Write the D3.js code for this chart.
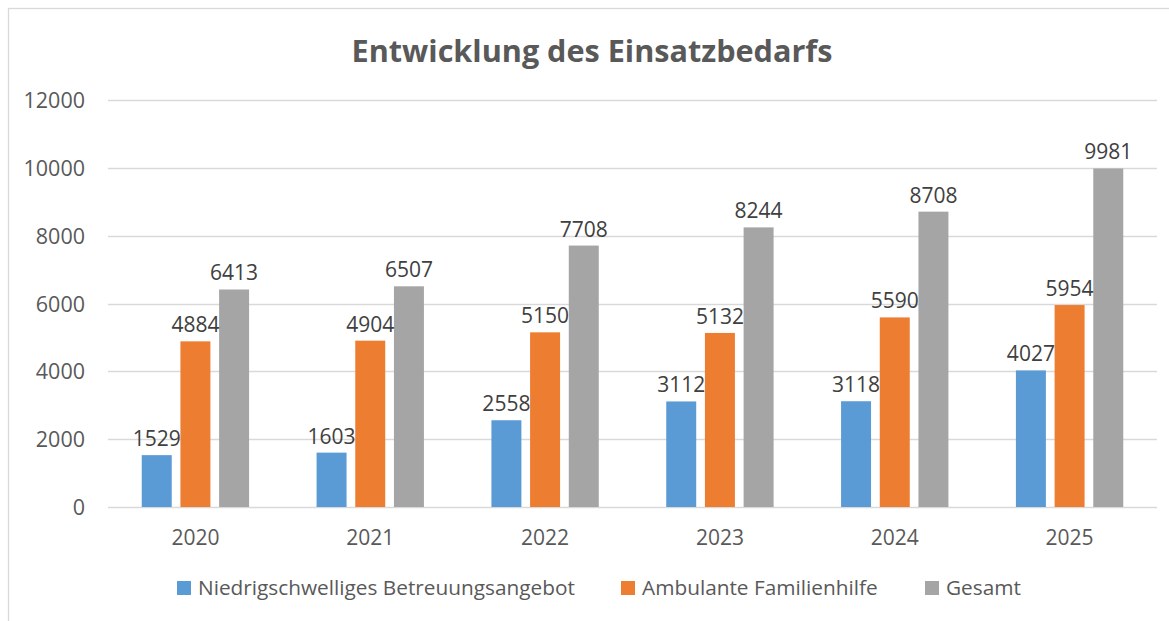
<!DOCTYPE html>
<html>
<head>
<meta charset="utf-8">
<script src="https://cdn.jsdelivr.net/npm/d3@7"></script>
<style>
  html, body { margin: 0; padding: 0; background: #fff; }
  svg { display: block; }
  text { font-family: "Open Sans", "Noto Sans", sans-serif; }
</style>
</head>
<body>
<svg id="chart" width="1169" height="621"></svg>
<script>
const categories = ["2020", "2021", "2022", "2023", "2024", "2025"];
const seriesNames = ["Niedrigschwelliges Betreuungsangebot", "Ambulante Familienhilfe", "Gesamt"];
const niedrigschwellig = [1529, 1603, 2558, 3112, 3118, 4027];
const ambulant = [4884, 4904, 5150, 5132, 5590, 5954];
const gesamt = [6413, 6507, 7708, 8244, 8708, 9981];
const yTicks = [0, 2000, 4000, 6000, 8000, 10000, 12000];
const colors = ["#5B9BD5", "#ED7D31", "#A5A5A5"];
const title = "Entwicklung des Einsatzbedarfs";

const seriesValues = [niedrigschwellig, ambulant, gesamt];
const svg = d3.select("#chart");
const W = 1169, H = 621;
const plot = { left: 108, right: 1157, top: 100, bottom: 507 };

// chart area border
svg.append("rect")
  .attr("x", 8.5).attr("y", 8.5)
  .attr("width", W + 20).attr("height", H + 20)
  .attr("fill", "#fff").attr("stroke", "#D9D9D9").attr("stroke-width", 1.3);

const x0 = d3.scaleBand().domain(categories).range([plot.left, plot.right]).paddingInner(0).paddingOuter(0);
const bw = x0.bandwidth();
const x1 = d3.scaleBand().domain(seriesNames).range([bw * 0.193, bw * 0.807]).paddingInner(0.225).paddingOuter(0);
const y = d3.scaleLinear().domain([0, 12000]).range([plot.bottom, plot.top]);

// gridlines
svg.append("g").selectAll("line").data(yTicks).join("line")
  .attr("x1", plot.left).attr("x2", plot.right)
  .attr("y1", d => Math.round(y(d)) + 0.5).attr("y2", d => Math.round(y(d)) + 0.5)
  .attr("stroke", "#D9D9D9").attr("stroke-width", 1.5);

// y axis labels
const yAxis = d3.axisLeft(y).tickValues(yTicks).tickSize(0).tickPadding(0).tickFormat(d3.format("d"));
const gy = svg.append("g").attr("transform", `translate(85,0)`).call(yAxis);
gy.select(".domain").remove();
gy.selectAll("text").attr("fill", "#595959").style("font-size", "21.5px").attr("dy", "0.35em");

// x axis labels
const xAxis = d3.axisBottom(x0).tickSize(0).tickPadding(0);
const gx = svg.append("g").attr("transform", `translate(0,${plot.bottom + 23})`).call(xAxis);
gx.select(".domain").remove();
gx.selectAll("text").attr("fill", "#595959").style("font-size", "21px").attr("dy", "0.71em");

// bars
const data = categories.map((c, i) => ({ cat: c, vals: seriesNames.map((s, j) => ({ s, j, v: seriesValues[j][i] })) }));
const groups = svg.append("g").selectAll("g").data(data).join("g")
  .attr("transform", d => `translate(${x0(d.cat)},0)`);
groups.selectAll("rect").data(d => d.vals).join("rect")
  .attr("x", d => x1(d.s)).attr("width", x1.bandwidth())
  .attr("y", d => y(d.v)).attr("height", d => y(0) - y(d.v))
  .attr("fill", d => colors[d.j]);
groups.selectAll("text").data(d => d.vals).join("text")
  .attr("x", d => x1(d.s) + x1.bandwidth() / 2)
  .attr("y", d => y(d.v) - 9)
  .attr("text-anchor", "middle")
  .attr("fill", "#404040").style("font-size", "21px")
  .text(d => d.v);

// title
svg.append("text").attr("x", 592).attr("y", 62).attr("text-anchor", "middle")
  .attr("fill", "#595959").style("font-size", "30.6px").style("font-weight", "bold")
  .text(title);

// legend
const legendX = [177, 621, 925];
const lg = svg.append("g").selectAll("g").data(seriesNames).join("g")
  .attr("transform", (d, i) => `translate(${legendX[i]},581)`);
lg.append("rect").attr("width", 14).attr("height", 14).attr("fill", (d, i) => colors[i]);
lg.append("text").attr("x", 21).attr("y", 14).attr("fill", "#595959").style("font-size", "20.8px").text(d => d);
</script>
</body>
</html>
